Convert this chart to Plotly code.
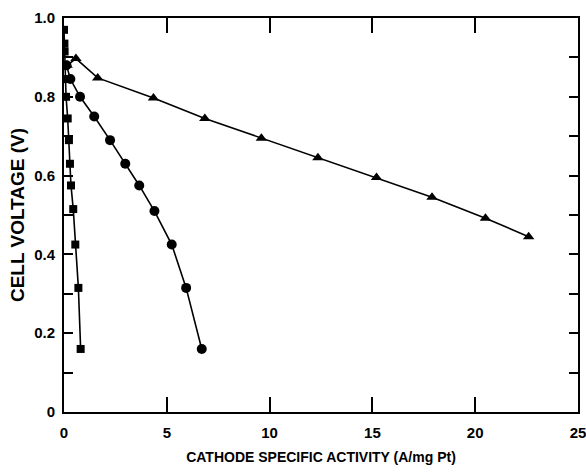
import plotly.graph_objects as go

# Data
sq_x = [0.0, 0.02, 0.03, 0.05, 0.07, 0.1, 0.18, 0.24, 0.29, 0.34, 0.45, 0.55, 0.70, 0.81]
sq_y = [0.97, 0.935, 0.915, 0.88, 0.845, 0.80, 0.745, 0.69, 0.63, 0.575, 0.515, 0.425, 0.315, 0.16]

ci_x = [0.12, 0.31, 0.78, 1.47, 2.24, 2.98, 3.66, 4.40, 5.24, 5.94, 6.70]
ci_y = [0.88, 0.845, 0.80, 0.75, 0.69, 0.63, 0.575, 0.51, 0.425, 0.315, 0.16]

tr_x = [0.15, 0.58, 1.64, 4.35, 6.85, 9.6, 12.35, 15.2, 17.9, 20.5, 22.6]
tr_y = [0.88, 0.897, 0.848, 0.797, 0.745, 0.695, 0.645, 0.595, 0.545, 0.492, 0.445]

x_ticks = [0, 5, 10, 15, 20, 25]
y_ticks = [0, 0.1, 0.2, 0.3, 0.4, 0.5, 0.6, 0.7, 0.8, 0.9, 1.0]
y_ticktext = ["0", "", "0.2", "", "0.4", "", "0.6", "", "0.8", "", "1.0"]

FONT = "Liberation Sans, Arial, sans-serif"

fig = go.Figure()
fig.add_trace(go.Scatter(x=tr_x, y=tr_y, mode="lines+markers",
                         line=dict(color="black", width=1.6),
                         marker=dict(symbol="triangle-up", size=10, color="black")))
fig.add_trace(go.Scatter(x=ci_x, y=ci_y, mode="lines+markers",
                         line=dict(color="black", width=1.6),
                         marker=dict(symbol="circle", size=10, color="black")))
fig.add_trace(go.Scatter(x=sq_x, y=sq_y, mode="lines+markers",
                         line=dict(color="black", width=1.6),
                         marker=dict(symbol="square", size=8, color="black")))

fig.update_layout(
    width=586, height=472,
    margin=dict(l=64, r=8, t=18, b=60),
    paper_bgcolor="white", plot_bgcolor="white",
    showlegend=False,
    font=dict(family=FONT, size=14, color="#000000", weight="bold"),
    xaxis=dict(range=[0, 25], tickvals=x_ticks, ticks="inside", ticklen=15,
               tickwidth=1.5, tickcolor="black", showline=True, linewidth=2,
               linecolor="black", mirror="ticks", showgrid=False, zeroline=False,
               ticklabeloverflow="allow", ticklabelstandoff=6, automargin=False,
               title=dict(text="CATHODE SPECIFIC ACTIVITY (A/mg Pt)", standoff=12,
                          font=dict(family=FONT, size=14, color="#000000", weight="bold")),
               tickfont=dict(family=FONT, size=15, color="#000000", weight="bold")),
    yaxis=dict(range=[0, 1.0], tickvals=y_ticks, ticktext=y_ticktext,
               ticks="inside", ticklen=9, tickwidth=1.5, tickcolor="black",
               showline=True, linewidth=2, linecolor="black", mirror="ticks",
               showgrid=False, zeroline=False, ticklabelstandoff=4, automargin=False,
               title=dict(text="CELL VOLTAGE (V)", standoff=4,
                          font=dict(family=FONT, size=19, color="#000000", weight="bold")),
               tickfont=dict(family=FONT, size=15, color="#000000", weight="bold")),
)

fig.write_html("out.html")
